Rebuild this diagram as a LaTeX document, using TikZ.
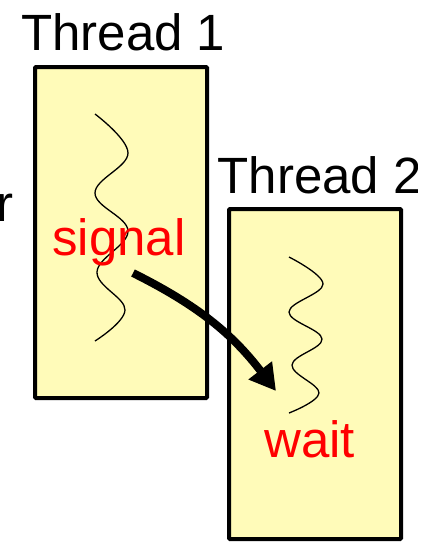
\documentclass[tikz,border=0pt]{standalone}
\usepackage{fontspec}
\setmainfont{Liberation Sans}
\usetikzlibrary{arrows.meta}
\definecolor{boxfill}{RGB}{255,251,185}
\definecolor{sigred}{RGB}{255,0,0}
\tikzset{
  threadbox/.style={draw=black, line width=4pt, fill=boxfill, rounded corners=1pt},
  bigtext/.style={font=\fontsize{51}{60}\selectfont, inner sep=0pt, anchor=base west},
  redtext/.style={bigtext, text=sigred},
  wave/.style={draw=black, line width=1.3pt, smooth, tension=0.65},
  sigarrow/.style={line width=8pt, -{Triangle[length=26pt,width=28pt]}}
}
\begin{document}
\begin{tikzpicture}[x=1pt,y=-1pt]
\clip (0,0) rectangle (433,542);
\fill[white] (0,0) rectangle (433,542);
% boxes
\draw[threadbox] (35,67) rectangle (207,398);
\draw[threadbox] (229,209) rectangle (401,539);
% labels
\node[bigtext] (t1) at (21,50) {Thread 1};
\begin{scope}
\clip (0,0) rectangle (417,542);
\node[bigtext] (t2) at (217.5,193) {Thread 2};
\end{scope}
\node[bigtext, anchor=base east] (r) at (14,221) {r};
% waves
\draw[wave] plot coordinates {(95,114) (128,153) (95,193) (128,231) (97,272) (125,310) (95,341)};
\draw[wave] plot coordinates {(289,257) (323,284) (289,312) (322,339) (292,365) (319,393) (289,413)};
% texts
\node[redtext] (sig) at (52,255) {signal};
\node[redtext] (wait) at (264,457) {wait};
% arrow
\coordinate (a0) at (133,273);
\coordinate (a1) at (276,391);
\draw[sigarrow] (a0) to[bend left=13] (a1);
\end{tikzpicture}
\end{document}
